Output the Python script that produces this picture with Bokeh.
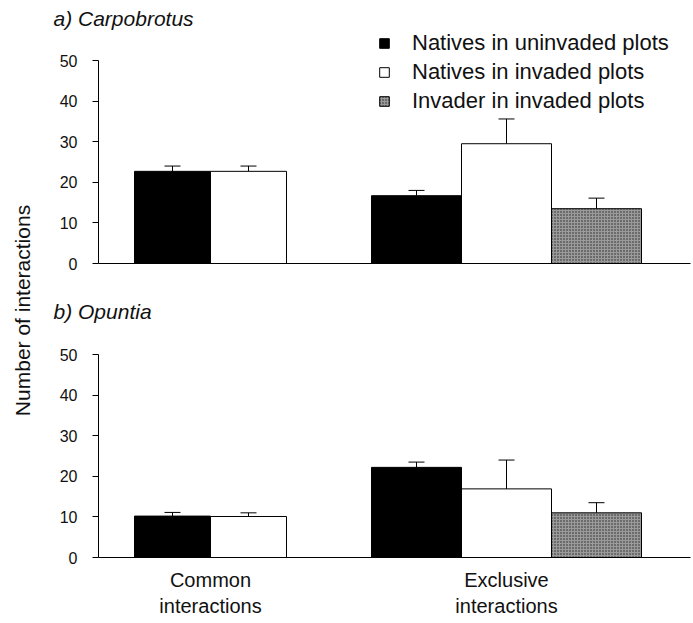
import math
from bokeh.plotting import figure
from bokeh.layouts import row, column
from bokeh.models import (Range1d, FixedTicker, Whisker, TeeHead, ColumnDataSource,
                          Legend, LegendItem, Title)
from bokeh.core.properties import value
from bokeh.embed import file_html
from bokeh.resources import INLINE

# ---------------- data ----------------
groups = ["Common\ninteractions", "Exclusive\ninteractions"]
series = ["Natives in uninvaded plots", "Natives in invaded plots", "Invader in invaded plots"]
panel_titles = ["a) Carpobrotus", "b) Opuntia"]

a_uninv = [22.7, 16.7]
a_uninv_err = [1.3, 1.3]
a_inv = [22.7, 29.5]
a_inv_err = [1.3, 6.1]
a_invader = [None, 13.5]
a_invader_err = [None, 2.6]

b_uninv = [10.2, 22.2]
b_uninv_err = [0.9, 1.3]
b_inv = [10.1, 16.9]
b_inv_err = [0.9, 7.1]
b_invader = [None, 11.0]
b_invader_err = [None, 2.5]

y_ticks = [0, 10, 20, 30, 40, 50]

FONT = "Liberation Sans"
TXT = "#111111"

# layout constants (x in frame pixels)
FRAME_W = 592
group_centers = [112, 408]
PX_PER_UNIT = 4.06


def bar_layout(vals_list):
    out = [[None] * len(groups) for _ in vals_list]
    for g in range(len(groups)):
        present = [s for s in range(len(vals_list)) if vals_list[s][g] is not None]
        n = len(present)
        w = 76 if n == 2 else 90
        for k, s in enumerate(present):
            out[s][g] = (group_centers[g] + (k - (n - 1) / 2) * w, w)
    return out


styles = [
    dict(fill_color="black"),
    dict(fill_color="white"),
    dict(fill_color="#9a9a9a", hatch_pattern="dot", hatch_color="#262626", hatch_scale=3, hatch_weight=1),
]


def add_title(p, text):
    t = Title(text=text, align="left", offset=-45, standoff=0,
              text_font=FONT, text_font_size="21px", text_font_style="italic",
              text_color=TXT)
    p.add_layout(t, "above")


def panel(title, vals, errs, show_x_labels, legend, height, top_border, bottom_border, frame_h):
    y_end = frame_h / PX_PER_UNIT
    p = figure(width=653, height=height, output_backend="svg", toolbar_location=None,
               x_range=Range1d(0, FRAME_W), y_range=Range1d(0, y_end),
               min_border_left=58, min_border_right=3,
               min_border_top=top_border, min_border_bottom=bottom_border)
    p.outline_line_color = None
    p.xgrid.grid_line_color = None
    p.ygrid.grid_line_color = None
    p.background_fill_color = "white"
    p.border_fill_color = "white"

    if title:
        add_title(p, title)

    lay = bar_layout(vals)
    renderers = []
    for s in range(len(vals)):
        xs, ws, tops, errtop = [], [], [], []
        for g in range(len(groups)):
            if vals[s][g] is None:
                continue
            x, w = lay[s][g]
            xs.append(x)
            ws.append(w)
            tops.append(vals[s][g])
            errtop.append(vals[s][g] + errs[s][g])
        src = ColumnDataSource(dict(x=xs, w=ws, top=tops, upper=errtop))
        r = p.vbar(x="x", width="w", top="top", bottom=0, source=src,
                   line_color="black", line_width=1, **styles[s])
        renderers.append(r)
        wk = Whisker(base="x", lower="top", upper="upper", source=src,
                     line_color="black", line_width=1,
                     upper_head=TeeHead(size=16, line_color="black", line_width=1),
                     lower_head=None)
        p.add_layout(wk)

    p.yaxis.ticker = FixedTicker(ticks=y_ticks)
    p.yaxis.bounds = (0, 50)
    p.yaxis.axis_line_color = "black"
    p.yaxis.major_tick_out = 6
    p.yaxis.major_tick_in = 0
    p.yaxis.minor_tick_line_color = None
    p.yaxis.major_label_standoff = 15
    p.yaxis.major_label_text_font = FONT
    p.yaxis.major_label_text_font_size = "16px"
    p.yaxis.major_label_text_color = TXT

    p.xaxis.axis_line_color = "black"
    p.xaxis.major_tick_line_color = None
    p.xaxis.minor_tick_line_color = None
    p.xaxis.ticker = FixedTicker(ticks=group_centers)
    p.xaxis.major_label_overrides = {group_centers[i]: groups[i] for i in range(len(groups))}
    if show_x_labels:
        p.xaxis.major_label_text_font = FONT
        p.xaxis.major_label_text_font_size = "20px"
        p.xaxis.major_label_text_color = TXT
        p.xaxis.major_label_standoff = 5
    else:
        p.xaxis.major_label_text_color = None
        p.xaxis.major_label_text_font_size = "1px"

    if legend:
        items = [LegendItem(label=series[i], renderers=[renderers[i]]) for i in range(3)]
        lg = Legend(items=items, location=(280, 149), orientation="vertical",
                    label_text_font=FONT, label_text_font_size="22px",
                    label_text_color=TXT, label_height=25,
                    glyph_width=12, glyph_height=12, label_standoff=22,
                    spacing=3, padding=0, margin=0,
                    border_line_color=None, background_fill_alpha=0)
        p.add_layout(lg, "center")
    return p


top = panel(panel_titles[0],
            [a_uninv, a_inv, a_invader], [a_uninv_err, a_inv_err, a_invader_err],
            False, True, 290, 29, 27, 234)

# thin strip holding the second panel's title
tb = figure(width=653, height=40, output_backend="svg", toolbar_location=None,
            x_range=Range1d(0, 1), y_range=Range1d(0, 1),
            min_border_left=58, min_border_right=3, min_border_top=32, min_border_bottom=0)
tb.axis.visible = False
tb.grid.visible = False
tb.outline_line_color = None
add_title(tb, panel_titles[1])

bottom = panel(None,
               [b_uninv, b_inv, b_invader], [b_uninv_err, b_inv_err, b_invader_err],
               True, False, 293, 22, 66, 205)

lab = figure(width=40, height=623, output_backend="svg", toolbar_location=None,
             x_range=Range1d(0, 40), y_range=Range1d(0, 623),
             min_border=0)
lab.axis.visible = False
lab.grid.visible = False
lab.outline_line_color = None
lab.text(x=[22], y=[313], text=["Number of interactions"], angle=math.pi / 2,
         text_align="center", text_baseline="middle",
         text_font=value(FONT), text_font_size="21px", text_color=TXT)

layout = row(lab, column(top, tb, bottom))
open("out.html", "w").write(file_html(layout, INLINE))
